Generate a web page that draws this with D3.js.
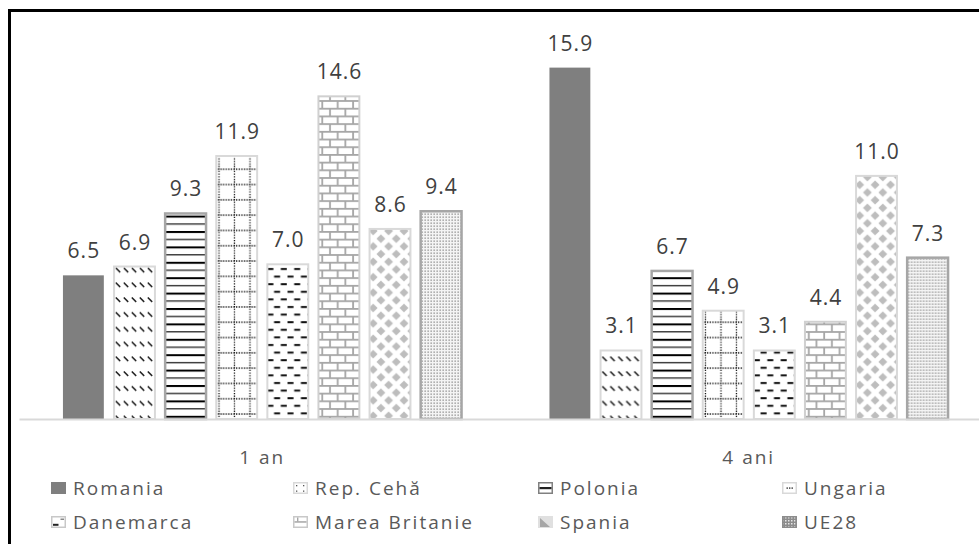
<!DOCTYPE html>
<html>
<head>
<meta charset="utf-8">
<script src="https://cdn.jsdelivr.net/npm/d3@7"></script>
<style>
  html, body { margin: 0; padding: 0; background: #fff; }
  svg { display: block; }
  text { font-family: "Open Sans", "DejaVu Sans", sans-serif; }
</style>
</head>
<body>
<svg id="chart" width="979" height="544"></svg>
<script>
// Categories (x axis groups)
const categories = ["1 an", "4 ani"];
// Series (countries)
const seriesNames = ["Romania", "Rep. Cehă", "Polonia", "Ungaria", "Danemarca", "Marea Britanie", "Spania", "UE28"];
// Values per series, one array per category
const values1an = [6.5, 6.9, 9.3, 11.9, 7.0, 14.6, 8.6, 9.4];
const values4ani = [15.9, 3.1, 6.7, 4.9, 3.1, 4.4, 11.0, 7.3];
const valuesByCategory = [values1an, values4ani];

// Fill / border look per series
const seriesStyle = {
  "Romania":        { fill: "#7f7f7f", stroke: "#7f7f7f", sw: 0 },
  "Rep. Cehă":      { fill: "url(#p-dashdiag)", stroke: "#d9d9d9", sw: 2 },
  "Polonia":        { fill: "url(#p-horiz)", stroke: "#a6a6a6", sw: 2.5 },
  "Ungaria":        { fill: "url(#p-dotgrid)", stroke: "#d9d9d9", sw: 2 },
  "Danemarca":      { fill: "url(#p-dashhoriz)", stroke: "#d9d9d9", sw: 2 },
  "Marea Britanie": { fill: "url(#p-brick)", stroke: "#d0d0d0", sw: 2 },
  "Spania":         { fill: "url(#p-diamond)", stroke: "#d9d9d9", sw: 2 },
  "UE28":           { fill: "url(#p-fine)", stroke: "#a6a6a6", sw: 2.5 }
};

const svg = d3.select("#chart");
const defs = svg.append("defs");

function pattern(id, w, h, bg = "#fff") {
  const p = defs.append("pattern")
    .attr("id", id)
    .attr("patternUnits", "userSpaceOnUse")
    .attr("width", w).attr("height", h);
  p.append("rect").attr("width", w).attr("height", h).attr("fill", bg);
  return p;
}

// dashed downward diagonal
{
  const p = pattern("p-dashdiag", 8, 14.8);
  p.append("line").attr("x1", 0.8).attr("y1", 1.5).attr("x2", 5.2).attr("y2", 5.9)
    .attr("stroke", "#1a1a1a").attr("stroke-width", 1.6);
}
// horizontal lines
{
  const p = pattern("p-horiz", 8, 15.4);
  p.append("rect").attr("x", 0).attr("y", 0).attr("width", 8).attr("height", 2).attr("fill", "#000");
  p.append("rect").attr("x", 0).attr("y", 7.7).attr("width", 8).attr("height", 1.4).attr("fill", "#333");
}
// dotted grid
{
  const p = pattern("p-dotgrid", 15.5, 15.3);
  p.append("line").attr("x1", 0).attr("y1", 1).attr("x2", 15.5).attr("y2", 1)
    .attr("stroke", "#111").attr("stroke-width", 1.3).attr("stroke-dasharray", "1.3 1.3");
  p.append("line").attr("x1", 14).attr("y1", 0).attr("x2", 14).attr("y2", 15.3)
    .attr("stroke", "#111").attr("stroke-width", 1.3).attr("stroke-dasharray", "1.3 1.3");
}
// dashed horizontal
{
  const p = pattern("p-dashhoriz", 13.4, 15.2);
  p.append("rect").attr("x", 0.5).attr("y", 2).attr("width", 6).attr("height", 2).attr("fill", "#111");
  p.append("rect").attr("x", 7.2).attr("y", 9.6).attr("width", 6).attr("height", 2).attr("fill", "#111");
}
// brick
{
  const p = pattern("p-brick", 15.4, 15.4);
  const c = "#a6a6a6";
  p.append("line").attr("x1", 0).attr("y1", 0.9).attr("x2", 15.4).attr("y2", 0.9).attr("stroke", c).attr("stroke-width", 1.8);
  p.append("line").attr("x1", 0).attr("y1", 8.6).attr("x2", 15.4).attr("y2", 8.6).attr("stroke", c).attr("stroke-width", 1.8);
  p.append("line").attr("x1", 3).attr("y1", 0).attr("x2", 3).attr("y2", 8.6).attr("stroke", c).attr("stroke-width", 1.8);
  p.append("line").attr("x1", 10.7).attr("y1", 8.6).attr("x2", 10.7).attr("y2", 15.4).attr("stroke", c).attr("stroke-width", 1.8);
}
// diamonds
{
  const s = 15.4, r = 4.4;
  const p = pattern("p-diamond", s, s);
  [[0, 0], [s, 0], [0, s], [s, s], [s / 2, s / 2]].forEach(([cx, cy]) => {
    p.append("polygon")
      .attr("points", [[cx, cy - r], [cx + r, cy], [cx, cy + r], [cx - r, cy]].map(d => d.join(",")).join(" "))
      .attr("fill", "#bdbdbd");
  });
}
// fine dots
{
  const p = pattern("p-fine", 3, 3, "#f4f4f4");
  p.append("rect").attr("x", 0.5).attr("y", 0.5).attr("width", 1.3).attr("height", 1.3).attr("fill", "#8a8a8a");
}
// small grid used by the UE28 legend key
{
  const p = pattern("p-keygrid", 3, 3, "#8c8c8c");
  p.append("rect").attr("x", 0).attr("y", 0).attr("width", 1.5).attr("height", 1.5).attr("fill", "#e6e6e6");
}

// Outer frame
svg.append("rect")
  .attr("x", 9.5).attr("y", 10.5)
  .attr("width", 1100).attr("height", 700)
  .attr("fill", "none").attr("stroke", "#000").attr("stroke-width", 3);

// Scales
const x0 = d3.scaleBand().domain(categories).range([19, 992]).padding(0);
const x1 = d3.scaleBand().domain(seriesNames).range([0, x0.bandwidth()])
  .paddingInner(0.2).paddingOuter(0.86);
const y = d3.scaleLinear().domain([0, 18]).range([419, 419 - 18 * 22.1]);

// Bars
const groups = svg.append("g").selectAll("g")
  .data(categories)
  .join("g")
  .attr("transform", d => `translate(${x0(d)},0)`);

groups.selectAll("rect")
  .data((c, i) => seriesNames.map((s, j) => ({ s, v: valuesByCategory[i][j] })))
  .join("rect")
  .attr("x", d => x1(d.s))
  .attr("y", d => y(d.v))
  .attr("width", x1.bandwidth())
  .attr("height", d => y(0) - y(d.v))
  .attr("fill", d => seriesStyle[d.s].fill)
  .attr("stroke", d => seriesStyle[d.s].stroke)
  .attr("stroke-width", d => seriesStyle[d.s].sw);

// Value labels
const fmt = d3.format(".1f");
groups.selectAll("text.val")
  .data((c, i) => seriesNames.map((s, j) => ({ s, v: valuesByCategory[i][j] })))
  .join("text")
  .attr("class", "val")
  .attr("x", d => x1(d.s) + x1.bandwidth() / 2 + 0.5)
  .attr("y", d => y(d.v) - 17)
  .attr("text-anchor", "middle")
  .attr("font-size", 21)
  .attr("letter-spacing", 1)
  .attr("fill", "#404040")
  .text(d => fmt(d.v));

// Baseline (category axis)
const xAxis = d3.axisBottom(x0).tickSize(0).tickPadding(0);
const axisG = svg.append("g").attr("transform", `translate(0,${y(0)})`).call(xAxis);
axisG.select(".domain").attr("stroke", "#d9d9d9").attr("stroke-width", 2);
axisG.selectAll(".tick text")
  .attr("dy", null)
  .attr("y", 45)
  .attr("font-size", 19)
  .attr("letter-spacing", 2)
  .attr("fill", "#595959")
  .style("font-family", "'Open Sans', sans-serif");

// Legend
const legendCols = [51, 293, 538, 782];
const legendRows = [495, 529];
const legend = svg.append("g").selectAll("g")
  .data(seriesNames)
  .join("g")
  .attr("transform", (d, i) => `translate(${legendCols[i % 4]},${legendRows[Math.floor(i / 4)]})`);

// Legend keys: small versions of each fill
const keyDraw = {
  "Romania": g => g.append("rect").attr("x", 0).attr("y", -13).attr("width", 15).attr("height", 12).attr("fill", "#7f7f7f"),
  "Rep. Cehă": g => {
    g.append("rect").attr("x", 0.75).attr("y", -12.25).attr("width", 13.5).attr("height", 10.5)
      .attr("fill", "#fff").attr("stroke", "#d9d9d9").attr("stroke-width", 1.5);
    [[3, -10], [10, -10], [3, -4.5], [10, -4.5]].forEach(([cx, cy]) =>
      g.append("rect").attr("x", cx).attr("y", cy).attr("width", 1.3).attr("height", 1.3).attr("fill", "#555"));
  },
  "Polonia": g => {
    g.append("rect").attr("x", 0.75).attr("y", -12.25).attr("width", 13.5).attr("height", 10.5)
      .attr("fill", "#fff").attr("stroke", "#808080").attr("stroke-width", 1.5);
    g.append("rect").attr("x", 1.5).attr("y", -8).attr("width", 12).attr("height", 2.2).attr("fill", "#222");
  },
  "Ungaria": g => {
    g.append("rect").attr("x", 0.75).attr("y", -12.25).attr("width", 13.5).attr("height", 10.5)
      .attr("fill", "#fff").attr("stroke", "#d9d9d9").attr("stroke-width", 1.5);
    [4.5, 7, 9.5].forEach(cx =>
      g.append("rect").attr("x", cx).attr("y", -7.6).attr("width", 1.4).attr("height", 1.4).attr("fill", "#333"));
  },
  "Danemarca": g => {
    g.append("rect").attr("x", 0.75).attr("y", -12.25).attr("width", 13.5).attr("height", 10.5)
      .attr("fill", "#fff").attr("stroke", "#c8c8c8").attr("stroke-width", 1.5);
    g.append("rect").attr("x", 2).attr("y", -5.2).attr("width", 5.5).attr("height", 2).attr("fill", "#222");
    g.append("rect").attr("x", 9.5).attr("y", -10.5).attr("width", 3.5).attr("height", 1.5).attr("fill", "#888");
  },
  "Marea Britanie": g => {
    g.append("rect").attr("x", 0.75).attr("y", -12.25).attr("width", 13.5).attr("height", 10.5)
      .attr("fill", "#fff").attr("stroke", "#c8c8c8").attr("stroke-width", 1.5);
    g.append("rect").attr("x", 1.5).attr("y", -7.8).attr("width", 12).attr("height", 1.5).attr("fill", "#a6a6a6");
    g.append("rect").attr("x", 4).attr("y", -11.5).attr("width", 1.4).attr("height", 4).attr("fill", "#a6a6a6");
  },
  "Spania": g => {
    g.append("rect").attr("x", 0).attr("y", -13).attr("width", 15).attr("height", 12).attr("fill", "#e0e0e0");
    g.append("polygon").attr("points", "2,-11 12,-2 2,-2").attr("fill", "#a6a6a6");
  },
  "UE28": g => g.append("rect").attr("x", 0.75).attr("y", -12.25).attr("width", 13.5).attr("height", 10.5)
      .attr("fill", "url(#p-keygrid)").attr("stroke", "#8c8c8c").attr("stroke-width", 1.5)
};
legend.each(function (d) { keyDraw[d](d3.select(this)); });

legend.append("text")
  .attr("x", 22).attr("y", 0)
  .attr("font-size", 19)
  .attr("letter-spacing", 2)
  .attr("fill", "#595959")
  .text(d => d);
</script>
</body>
</html>
